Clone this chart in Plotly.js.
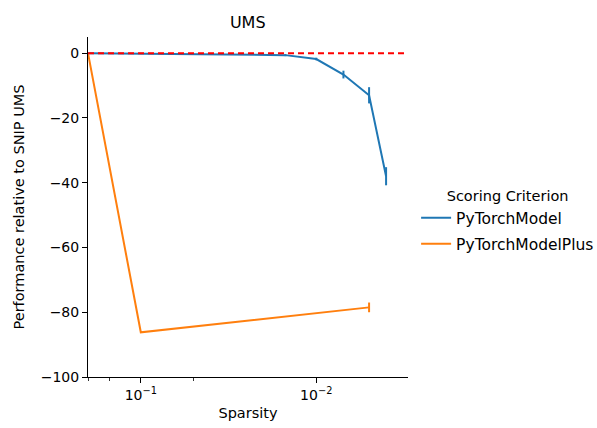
<!DOCTYPE html>
<html>
<head>
<meta charset="utf-8">
<script src="https://cdn.plot.ly/plotly-3.0.1.min.js"></script>
<style>html,body{margin:0;padding:0;background:#fff;}#chart{width:597px;height:428px;}</style>
</head>
<body>
<div id="chart"></div>
<script>
// Data
const seriesNames = ["PyTorchModel", "PyTorchModelPlus"];
const sparsityA = [0.2, 0.1, 0.05, 0.02, 0.015, 0.01, 0.007, 0.005, 0.004];
const perfA = [0, -0.1, -0.2, -0.4, -0.6, -1.8, -6.6, -13, -38];
const errA = [0, 0, 0, 0.1, 0.3, 0.4, 1.2, 2.5, 2.8];
const sparsityB = [0.2, 0.1, 0.005];
const perfB = [0, -86.2, -78.5];
const errB = [0, 0, 1.5];
const xTickVals = [0.1, 0.01];
const xTickText = ["10<sup>−1</sup>", "10<sup>−2</sup>"];
const yTickVals = [0, -20, -40, -60, -80, -100];

const colors = ["#1f77b4", "#ff7f0e"];
const font = "DejaVu Sans, sans-serif";

const traces = [
  {x: sparsityA, y: perfA, name: seriesNames[0], legendgroup: "a", mode: "lines", type: "scatter",
   line: {color: colors[0], width: 2},
   error_y: {type: "data", array: errA, visible: true, color: colors[0], thickness: 2, width: 0}},
  {x: sparsityB, y: perfB, name: seriesNames[1], legendgroup: "b", mode: "lines", type: "scatter",
   line: {color: colors[1], width: 2},
   error_y: {type: "data", array: errB, visible: true, color: colors[1], thickness: 2, width: 0}}
];

const layout = {
  width: 597, height: 428,
  margin: {l: 88, r: 189, t: 37, b: 51},
  paper_bgcolor: "#fff", plot_bgcolor: "#fff",
  font: {family: font, size: 14, color: "#000"},
  title: {text: "UMS", font: {family: font, size: 16, color: "#000"}, x: 0.415, xanchor: "center", y: 0.948, yanchor: "middle"},
  xaxis: {
    type: "log", range: [Math.log10(0.2), Math.log10(0.003)],
    tickvals: xTickVals, ticktext: xTickText,
    ticks: "outside", ticklen: 5, tickwidth: 1, tickcolor: "#000",
    minor: {ticks: "outside", ticklen: 3, tickwidth: 0.8, tickcolor: "#000", showgrid: false},
    showgrid: false, zeroline: false, showline: true, linecolor: "#000", linewidth: 1,
    title: {text: "Sparsity", font: {family: font, size: 14.5, color: "#000"}, standoff: 6},
    tickfont: {family: font, size: 14, color: "#000"}
  },
  yaxis: {
    range: [-100, 5], tickvals: yTickVals,
    ticks: "outside", ticklen: 5, tickwidth: 1, tickcolor: "#000",
    showgrid: false, zeroline: false, showline: true, linecolor: "#000", linewidth: 1,
    title: {text: "Performance relative to SNIP UMS", font: {family: font, size: 14.5, color: "#000"}, standoff: 12},
    tickfont: {family: font, size: 14, color: "#000"}
  },
  shapes: [{type: "line", xref: "paper", x0: 0, x1: 1, yref: "y", y0: 0, y1: 0,
            line: {color: "red", width: 2, dash: "6px,4px"}}],
  legend: {
    xref: "container", yref: "container",
    x: 0.697, xanchor: "left", y: 0.482, yanchor: "middle",
    title: {text: "Scoring Criterion", font: {family: font, size: 14.5, color: "#000"}, side: "top center"},
    font: {family: font, size: 15.5, color: "#000"},
    bgcolor: "rgba(0,0,0,0)", tracegroupgap: 3, traceorder: "grouped", itemwidth: 30
  },
  showlegend: true
};

Plotly.newPlot("chart", traces, layout, {displayModeBar: false, staticPlot: true});
</script>
</body>
</html>
